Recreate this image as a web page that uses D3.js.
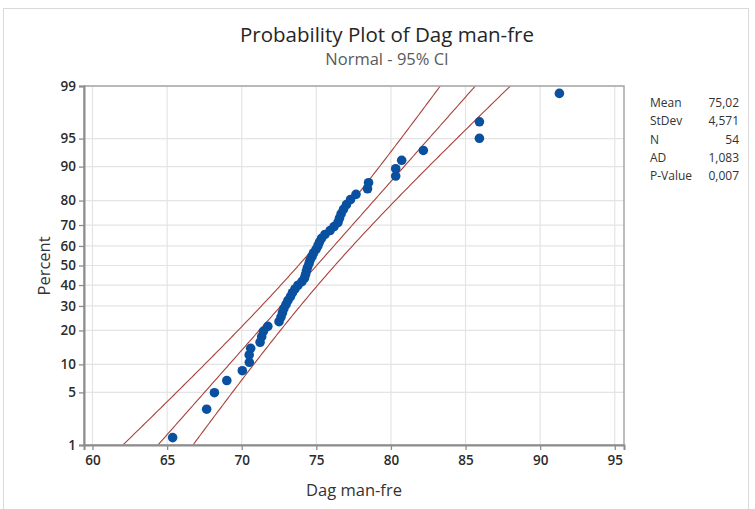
<!DOCTYPE html>
<html>
<head>
<meta charset="utf-8">
<script src="https://cdn.jsdelivr.net/npm/d3@7"></script>
<style>
  body { margin: 0; background: #fff; }
  svg { display: block; }
  text { font-family: "Open Sans", "Noto Sans", sans-serif; }
</style>
</head>
<body>
<svg id="chart" width="755" height="509"></svg>
<script>
// Observed values of "Dag man-fre", sorted ascending
const values = [
  65.37, 67.65, 68.17, 69.00, 70.04, 70.51, 70.50, 70.60, 71.23, 71.34,
  71.45, 71.75, 72.50, 72.63, 72.73, 72.83, 72.97, 73.10, 73.27, 73.40,
  73.57, 73.77, 74.04, 74.21, 74.28, 74.34, 74.41, 74.51, 74.58, 74.71,
  74.81, 74.98, 75.11, 75.21, 75.35, 75.58, 75.92, 76.19, 76.45, 76.55,
  76.66, 76.82, 77.02, 77.29, 77.66, 78.43, 78.50, 80.32, 80.32, 80.72,
  82.17, 85.93, 85.93, 91.29
];
const xTicks = [60, 65, 70, 75, 80, 85, 90, 95];
const percentTicks = [1, 5, 10, 20, 30, 40, 50, 60, 70, 80, 90, 95, 99];
const statLabels = ["Mean", "StDev", "N", "AD", "P-Value"];
const statValues = ["75,02", "4,571", "54", "1,083", "0,007"];
const mean = 75.02;
const stdev = 4.571;
const confidence = 0.95;

// Inverse standard normal CDF (Acklam's rational approximation)
function probit(p) {
  const a = [-3.969683028665376e+01, 2.209460984245205e+02, -2.759285104469687e+02,
             1.383577518672690e+02, -3.066479806614716e+01, 2.506628277459239e+00];
  const b = [-5.447609879822406e+01, 1.615858368580409e+02, -1.556989798598866e+02,
             6.680131188771972e+01, -1.328068155288572e+01];
  const c = [-7.784894002430293e-03, -3.223964580411365e-01, -2.400758277161838e+00,
             -2.549732539343734e+00, 4.374664141464968e+00, 2.938163982698783e+00];
  const d = [7.784695709041462e-03, 3.224671290700398e-01, 2.445134137142996e+00,
             3.754408661907416e+00];
  const pl = 0.02425;
  let q, r;
  if (p < pl) {
    q = Math.sqrt(-2 * Math.log(p));
    return (((((c[0]*q+c[1])*q+c[2])*q+c[3])*q+c[4])*q+c[5]) /
           ((((d[0]*q+d[1])*q+d[2])*q+d[3])*q+1);
  }
  if (p > 1 - pl) {
    q = Math.sqrt(-2 * Math.log(1 - p));
    return -(((((c[0]*q+c[1])*q+c[2])*q+c[3])*q+c[4])*q+c[5]) /
            ((((d[0]*q+d[1])*q+d[2])*q+d[3])*q+1);
  }
  q = p - 0.5; r = q * q;
  return (((((a[0]*r+a[1])*r+a[2])*r+a[3])*r+a[4])*r+a[5])*q /
         (((((b[0]*r+b[1])*r+b[2])*r+b[3])*r+b[4])*r+1);
}

const svg = d3.select("#chart");
const W = 755, H = 509;
const plot = { left: 84, right: 624, top: 86, bottom: 445 };

// outer frame
svg.append("rect")
  .attr("x", 3.5).attr("y", 8.5).attr("width", W - 10).attr("height", H)
  .attr("fill", "#fff").attr("stroke", "#d9d9d9").attr("stroke-width", 1);

const x = d3.scaleLinear().domain([59.43, 95.62]).range([plot.left, plot.right]);
const y = d3.scaleLinear()
  .domain([probit(0.01), probit(0.99)])
  .range([plot.bottom, plot.top]);

// grid
const grid = svg.append("g").attr("stroke", "#e4e4e4").attr("stroke-width", 1.2);
grid.selectAll("line.gx").data(xTicks).join("line")
  .attr("x1", d => x(d)).attr("x2", d => x(d))
  .attr("y1", plot.top).attr("y2", plot.bottom);
grid.selectAll("line.gy").data(percentTicks).join("line")
  .attr("x1", plot.left).attr("x2", plot.right)
  .attr("y1", d => y(probit(d / 100))).attr("y2", d => y(probit(d / 100)));

// fitted line and confidence band
const n = values.length;
const zc = probit(1 - (1 - confidence) / 2);
const zs = d3.range(0, 201).map(k => probit(0.01) + (probit(0.99) - probit(0.01)) * k / 200);
const halfWidth = z => zc * stdev * Math.sqrt((1 + z * z / 2) / n);
const fitCurves = [
  zs.map(z => [mean + stdev * z - halfWidth(z), z]),
  zs.map(z => [mean + stdev * z, z]),
  zs.map(z => [mean + stdev * z + halfWidth(z), z])
];

svg.append("clipPath").attr("id", "plotClip")
  .append("rect")
  .attr("x", plot.left).attr("y", plot.top)
  .attr("width", plot.right - plot.left).attr("height", plot.bottom - plot.top);

const line = d3.line().x(d => x(d[0])).y(d => y(d[1]));
svg.append("g").attr("clip-path", "url(#plotClip)")
  .selectAll("path").data(fitCurves).join("path")
  .attr("d", line)
  .attr("fill", "none")
  .attr("stroke", "#a9403a")
  .attr("stroke-width", 1.1);

// points at median-rank plotting positions
svg.append("g").attr("clip-path", "url(#plotClip)")
  .selectAll("circle").data(values).join("circle")
  .attr("cx", d => x(d))
  .attr("cy", (d, i) => y(probit((i + 1 - 0.3) / (n + 0.4))))
  .attr("r", 4.8)
  .attr("fill", "#0a50a1");

// plot frame
svg.append("rect")
  .attr("x", plot.left).attr("y", plot.top)
  .attr("width", plot.right - plot.left).attr("height", plot.bottom - plot.top)
  .attr("fill", "none").attr("stroke", "#a6a6a6").attr("stroke-width", 1.5);

// axes
const xAxis = d3.axisBottom(x).tickValues(xTicks).tickSize(5).tickPadding(5);
const gx = svg.append("g").attr("transform", `translate(0,${plot.bottom})`).call(xAxis);
gx.select(".domain").attr("stroke", "#8c8c8c").attr("stroke-width", 2);
gx.selectAll(".tick line").attr("stroke", "#8c8c8c").attr("stroke-width", 1.3);
gx.selectAll(".tick text").attr("font-size", 13.5).attr("fill", "#2b2b2b")
  .attr("font-weight", 600)
  .attr("font-family", '"Open Sans", "Noto Sans", sans-serif');

const yAxis = d3.axisLeft(y)
  .tickValues(percentTicks.map(p => probit(p / 100)))
  .tickFormat((d, i) => percentTicks[i])
  .tickSize(5).tickPadding(3);
const gy = svg.append("g").attr("transform", `translate(${plot.left},0)`).call(yAxis);
gy.select(".domain").attr("stroke", "#8c8c8c").attr("stroke-width", 2);
gy.selectAll(".tick line").attr("stroke", "#8c8c8c").attr("stroke-width", 1.3);
gy.selectAll(".tick text").attr("font-size", 13.5).attr("fill", "#2b2b2b")
  .attr("font-weight", 600)
  .attr("font-family", '"Open Sans", "Noto Sans", sans-serif');

// titles
svg.append("text").attr("x", 387).attr("y", 42).attr("text-anchor", "middle")
  .attr("font-size", 20.5).attr("fill", "#262626")
  .text("Probability Plot of Dag man-fre");
svg.append("text").attr("x", 387).attr("y", 65).attr("text-anchor", "middle")
  .attr("font-size", 16.5).attr("fill", "#5a5a5a")
  .text("Normal - 95% CI");
svg.append("text").attr("x", 354).attr("y", 496).attr("text-anchor", "middle")
  .attr("font-size", 16.5).attr("fill", "#333")
  .text("Dag man-fre");
svg.append("text")
  .attr("transform", "translate(50,266) rotate(-90)")
  .attr("text-anchor", "middle")
  .attr("font-size", 16.5).attr("fill", "#333")
  .text("Percent");

// statistics table
const stats = svg.append("g").attr("font-size", 12).attr("fill", "#333");
stats.selectAll("text.lab").data(statLabels).join("text")
  .attr("x", 650).attr("y", (d, i) => 107 + i * 18.3)
  .text(d => d);
stats.selectAll("text.val").data(statValues).join("text")
  .attr("x", 739).attr("y", (d, i) => 107 + i * 18.3)
  .attr("text-anchor", "end")
  .text(d => d);
</script>
</body>
</html>
